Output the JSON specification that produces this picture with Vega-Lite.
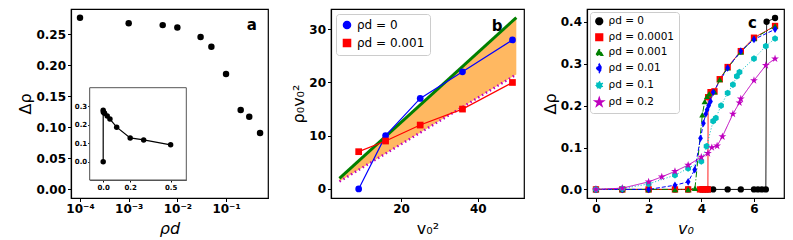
{
  "$schema": "https://vega.github.io/schema/vega-lite/v6.json",
  "padding": {"left": 17, "top": 8, "right": 5, "bottom": 0},
  "background": "white",
  "bounds": "flush",
  "spacing": 63,
  "resolve": {
    "scale": {"color": "independent", "shape": "independent", "strokeDash": "independent"},
    "legend": {"color": "independent", "shape": "independent", "strokeDash": "independent"}
  },
  "config": {
    "font": "DejaVu Sans",
    "view": {"stroke": "black", "strokeWidth": 1.2},
    "axis": {"grid": false, "domainColor": "black", "domainWidth": 1.2, "tickColor": "black", "tickSize": 3.5, "labelFontSize": 12, "labelFontWeight": "bold", "labelColor": "black", "titleFontSize": 16, "titleFontWeight": "normal", "titleColor": "black", "labelPadding": 2, "labelOverlap": false},
    "axisX": {"titlePadding": 6},
    "axisY": {"titlePadding": 2},
    "legend": {"labelFont": "DejaVu Sans", "labelColor": "black"}
  },
  "datasets": {
    "a_main": [
      {"rho_d": 0.0001, "drho": 0.277}, {"rho_d": 0.001, "drho": 0.268}, {"rho_d": 0.005, "drho": 0.265},
      {"rho_d": 0.01, "drho": 0.261}, {"rho_d": 0.03, "drho": 0.246}, {"rho_d": 0.05, "drho": 0.230},
      {"rho_d": 0.1, "drho": 0.186}, {"rho_d": 0.2, "drho": 0.128}, {"rho_d": 0.3, "drho": 0.117},
      {"rho_d": 0.5, "drho": 0.091}
    ],
    "a_inset": [
      {"rho_d": 0, "drho": 0},
      {"rho_d": 0.0001, "drho": 0.277}, {"rho_d": 0.001, "drho": 0.268}, {"rho_d": 0.005, "drho": 0.265},
      {"rho_d": 0.01, "drho": 0.261}, {"rho_d": 0.03, "drho": 0.246}, {"rho_d": 0.05, "drho": 0.230},
      {"rho_d": 0.1, "drho": 0.186}, {"rho_d": 0.2, "drho": 0.128}, {"rho_d": 0.3, "drho": 0.117},
      {"rho_d": 0.5, "drho": 0.091}
    ],
    "b_band": [
      {"v2": 4, "lo": 1.4, "hi": 2.0},
      {"v2": 50, "lo": 21.5, "hi": 32.2}
    ],
    "b_series": [
      {"s": "ρd = 0", "v2": 9, "val": 0}, {"s": "ρd = 0", "v2": 16, "val": 10}, {"s": "ρd = 0", "v2": 25, "val": 17},
      {"s": "ρd = 0", "v2": 36, "val": 22}, {"s": "ρd = 0", "v2": 49, "val": 28},
      {"s": "ρd = 0.001", "v2": 9, "val": 7}, {"s": "ρd = 0.001", "v2": 16, "val": 9}, {"s": "ρd = 0.001", "v2": 25, "val": 12},
      {"s": "ρd = 0.001", "v2": 36, "val": 15}, {"s": "ρd = 0.001", "v2": 49, "val": 20}
    ],
    "c_series": [
      {"s": "ρd = 0", "v0": 0, "d": 0}, {"s": "ρd = 0", "v0": 1, "d": 0}, {"s": "ρd = 0", "v0": 2, "d": 0},
      {"s": "ρd = 0", "v0": 3, "d": 0}, {"s": "ρd = 0", "v0": 3.5, "d": 0}, {"s": "ρd = 0", "v0": 4, "d": 0},
      {"s": "ρd = 0", "v0": 4.1, "d": 0}, {"s": "ρd = 0", "v0": 4.2, "d": 0}, {"s": "ρd = 0", "v0": 4.3, "d": 0},
      {"s": "ρd = 0", "v0": 4.45, "d": 0}, {"s": "ρd = 0", "v0": 5, "d": 0}, {"s": "ρd = 0", "v0": 5.5, "d": 0},
      {"s": "ρd = 0", "v0": 6, "d": 0}, {"s": "ρd = 0", "v0": 6.15, "d": 0}, {"s": "ρd = 0", "v0": 6.3, "d": 0},
      {"s": "ρd = 0", "v0": 6.45, "d": 0}, {"s": "ρd = 0", "v0": 6.48, "d": 0.40}, {"s": "ρd = 0", "v0": 6.8, "d": 0.409},

      {"s": "ρd = 0.0001", "v0": 0, "d": 0}, {"s": "ρd = 0.0001", "v0": 1, "d": 0}, {"s": "ρd = 0.0001", "v0": 2, "d": 0},
      {"s": "ρd = 0.0001", "v0": 3, "d": 0}, {"s": "ρd = 0.0001", "v0": 3.5, "d": 0}, {"s": "ρd = 0.0001", "v0": 3.95, "d": 0},
      {"s": "ρd = 0.0001", "v0": 4.05, "d": 0}, {"s": "ρd = 0.0001", "v0": 4.15, "d": 0}, {"s": "ρd = 0.0001", "v0": 4.25, "d": 0},
      {"s": "ρd = 0.0001", "v0": 4.26, "d": 0.22}, {"s": "ρd = 0.0001", "v0": 4.35, "d": 0.232}, {"s": "ρd = 0.0001", "v0": 4.5, "d": 0.234},
      {"s": "ρd = 0.0001", "v0": 4.7, "d": 0.263}, {"s": "ρd = 0.0001", "v0": 5, "d": 0.292}, {"s": "ρd = 0.0001", "v0": 5.5, "d": 0.33},
      {"s": "ρd = 0.0001", "v0": 6, "d": 0.362}, {"s": "ρd = 0.0001", "v0": 6.8, "d": 0.39},

      {"s": "ρd = 0.001", "v0": 0, "d": 0}, {"s": "ρd = 0.001", "v0": 1, "d": 0}, {"s": "ρd = 0.001", "v0": 2, "d": 0},
      {"s": "ρd = 0.001", "v0": 3, "d": 0}, {"s": "ρd = 0.001", "v0": 3.5, "d": 0}, {"s": "ρd = 0.001", "v0": 3.76, "d": 0.003},
      {"s": "ρd = 0.001", "v0": 4.04, "d": 0.178}, {"s": "ρd = 0.001", "v0": 4.13, "d": 0.21}, {"s": "ρd = 0.001", "v0": 4.22, "d": 0.222},
      {"s": "ρd = 0.001", "v0": 4.3, "d": 0.228}, {"s": "ρd = 0.001", "v0": 4.5, "d": 0.233}, {"s": "ρd = 0.001", "v0": 4.7, "d": 0.262},
      {"s": "ρd = 0.001", "v0": 5, "d": 0.29}, {"s": "ρd = 0.001", "v0": 5.5, "d": 0.328}, {"s": "ρd = 0.001", "v0": 6, "d": 0.36},
      {"s": "ρd = 0.001", "v0": 6.8, "d": 0.39},

      {"s": "ρd = 0.01", "v0": 0, "d": 0}, {"s": "ρd = 0.01", "v0": 1, "d": 0}, {"s": "ρd = 0.01", "v0": 2, "d": 0},
      {"s": "ρd = 0.01", "v0": 3, "d": 0.01}, {"s": "ρd = 0.01", "v0": 3.5, "d": 0.018}, {"s": "ρd = 0.01", "v0": 3.75, "d": 0.047},
      {"s": "ρd = 0.01", "v0": 3.97, "d": 0.122}, {"s": "ρd = 0.01", "v0": 4.08, "d": 0.158}, {"s": "ρd = 0.01", "v0": 4.17, "d": 0.18},
      {"s": "ρd = 0.01", "v0": 4.22, "d": 0.19}, {"s": "ρd = 0.01", "v0": 4.28, "d": 0.2}, {"s": "ρd = 0.01", "v0": 4.35, "d": 0.21},
      {"s": "ρd = 0.01", "v0": 4.45, "d": 0.232}, {"s": "ρd = 0.01", "v0": 5, "d": 0.29}, {"s": "ρd = 0.01", "v0": 5.5, "d": 0.33},
      {"s": "ρd = 0.01", "v0": 6, "d": 0.358}, {"s": "ρd = 0.01", "v0": 6.8, "d": 0.382},

      {"s": "ρd = 0.1", "v0": 0, "d": 0}, {"s": "ρd = 0.1", "v0": 1, "d": 0.002}, {"s": "ρd = 0.1", "v0": 2, "d": 0.013},
      {"s": "ρd = 0.1", "v0": 3, "d": 0.034}, {"s": "ρd = 0.1", "v0": 3.5, "d": 0.05}, {"s": "ρd = 0.1", "v0": 4, "d": 0.067},
      {"s": "ρd = 0.1", "v0": 4.2, "d": 0.103}, {"s": "ρd = 0.1", "v0": 4.45, "d": 0.163}, {"s": "ρd = 0.1", "v0": 4.55, "d": 0.17},
      {"s": "ρd = 0.1", "v0": 4.75, "d": 0.2}, {"s": "ρd = 0.1", "v0": 5, "d": 0.23}, {"s": "ρd = 0.1", "v0": 5.2, "d": 0.25},
      {"s": "ρd = 0.1", "v0": 5.35, "d": 0.27}, {"s": "ρd = 0.1", "v0": 5.45, "d": 0.28}, {"s": "ρd = 0.1", "v0": 6, "d": 0.312},
      {"s": "ρd = 0.1", "v0": 6.45, "d": 0.342}, {"s": "ρd = 0.1", "v0": 6.8, "d": 0.36},

      {"s": "ρd = 0.2", "v0": 0, "d": 0}, {"s": "ρd = 0.2", "v0": 1, "d": 0.003}, {"s": "ρd = 0.2", "v0": 2, "d": 0.018},
      {"s": "ρd = 0.2", "v0": 2.5, "d": 0.03}, {"s": "ρd = 0.2", "v0": 3, "d": 0.043}, {"s": "ρd = 0.2", "v0": 3.5, "d": 0.058},
      {"s": "ρd = 0.2", "v0": 4, "d": 0.077}, {"s": "ρd = 0.2", "v0": 4.25, "d": 0.086}, {"s": "ρd = 0.2", "v0": 4.4, "d": 0.1},
      {"s": "ρd = 0.2", "v0": 4.6, "d": 0.104}, {"s": "ρd = 0.2", "v0": 4.8, "d": 0.126}, {"s": "ρd = 0.2", "v0": 5.2, "d": 0.18},
      {"s": "ρd = 0.2", "v0": 5.45, "d": 0.207}, {"s": "ρd = 0.2", "v0": 5.5, "d": 0.216}, {"s": "ρd = 0.2", "v0": 6, "d": 0.26},
      {"s": "ρd = 0.2", "v0": 6.45, "d": 0.296}, {"s": "ρd = 0.2", "v0": 6.8, "d": 0.312}
    ]
  },
  "hconcat": [
    {
      "width": 197,
      "height": 189,
      "layer": [
        {
          "layer": [
            {
              "data": {"name": "a_main"},
              "mark": {"type": "point", "filled": true, "size": 42, "color": "black", "opacity": 1},
              "encoding": {
                "x": {"field": "rho_d", "type": "quantitative",
                  "scale": {"type": "log", "domain": [0.0000653, 0.728], "nice": false},
                  "axis": {"values": [0.0001, 0.001, 0.01, 0.1], "labelExpr": "datum.value < 0.0005 ? '10⁻⁴' : datum.value < 0.005 ? '10⁻³' : datum.value < 0.05 ? '10⁻²' : '10⁻¹'", "title": "ρd", "titleFontStyle": "italic", "labelOverlap": false}},
                "y": {"field": "drho", "type": "quantitative",
                  "scale": {"domain": [-0.0139, 0.291], "nice": false, "zero": false},
                  "axis": {"tickCount": 6, "format": ".2f", "title": "Δρ", "titlePadding": 2, "labelOverlap": false}}
              }
            },
            {
              "data": {"values": [{}]},
              "mark": {"type": "text", "text": "a", "fontSize": 15, "fontWeight": "bold", "color": "black"},
              "encoding": {
                "x": {"datum": 0.34, "type": "quantitative"},
                "y": {"datum": 0.265, "type": "quantitative"}
              }
            }
          ]
        },
        {
          "layer": [
            {
              "data": {"values": [{}]},
              "mark": {"type": "rect", "fill": "white", "stroke": "#555555", "strokeWidth": 1},
              "encoding": {
                "x": {"datum": -0.1, "type": "quantitative",
                  "scale": {"domain": [-0.1, 0.616], "range": [18.7, 115.3], "nice": false, "zero": false},
                  "axis": {"orient": "bottom", "offset": -18, "values": [0, 0.2, 0.5], "format": ".1f", "labelFontSize": 7, "tickSize": 2, "labelPadding": 1, "title": null, "domainColor": "#555555", "domainWidth": 1}},
                "x2": {"datum": 0.616},
                "y": {"datum": -0.099, "type": "quantitative",
                  "scale": {"domain": [-0.099, 0.399], "range": [171, 78.7], "nice": false, "zero": false},
                  "axis": {"orient": "left", "offset": -18.7, "tickCount": 4, "format": ".1f", "labelFontSize": 7, "tickSize": 2, "labelPadding": 1, "title": null, "domainColor": "#555555", "domainWidth": 1}},
                "y2": {"datum": 0.399}
              }
            },
            {
              "data": {"name": "a_inset"},
              "mark": {"type": "line", "color": "black", "strokeWidth": 1.2},
              "encoding": {
                "x": {"field": "rho_d", "type": "quantitative"},
                "y": {"field": "drho", "type": "quantitative"}
              }
            },
            {
              "data": {"name": "a_inset"},
              "mark": {"type": "point", "filled": true, "size": 30, "color": "black", "opacity": 1},
              "encoding": {
                "x": {"field": "rho_d", "type": "quantitative"},
                "y": {"field": "drho", "type": "quantitative"}
              }
            }
          ]
        }
      ],
      "resolve": {"scale": {"x": "independent", "y": "independent"}}
    },
    {
      "width": 193,
      "height": 189,
      "layer": [
        {
          "data": {"name": "b_band"},
          "mark": {"type": "area", "color": "#ffb861", "opacity": 1},
          "encoding": {
            "x": {"field": "v2", "type": "quantitative",
              "scale": {"domain": [1.8, 52], "nice": false, "zero": false},
              "axis": {"values": [20, 40], "title": "v₀²"}},
            "y": {"field": "lo", "type": "quantitative",
              "scale": {"domain": [-1.7, 33.8], "nice": false, "zero": false},
              "axis": {"values": [0, 10, 20, 30], "title": "ρ₀v₀²"}},
            "y2": {"field": "hi"}
          }
        },
        {
          "data": {"name": "b_band"},
          "mark": {"type": "line", "color": "#bf00bf", "strokeWidth": 2.5, "strokeDash": [1.5, 3]},
          "encoding": {
            "x": {"field": "v2", "type": "quantitative"},
            "y": {"field": "lo", "type": "quantitative"}
          }
        },
        {
          "data": {"name": "b_band"},
          "mark": {"type": "line", "color": "#008000", "strokeWidth": 3},
          "encoding": {
            "x": {"field": "v2", "type": "quantitative"},
            "y": {"field": "hi", "type": "quantitative"}
          }
        },
        {
          "data": {"name": "b_series"},
          "mark": {"type": "line", "strokeWidth": 1.2},
          "encoding": {
            "x": {"field": "v2", "type": "quantitative"},
            "y": {"field": "val", "type": "quantitative"},
            "color": {"field": "s", "type": "nominal",
              "scale": {"domain": ["ρd = 0", "ρd = 0.001"], "range": ["#0000ff", "#ff0000"]},
              "legend": {"orient": "top-left", "title": null, "labelFontSize": 12, "symbolSize": 50, "strokeColor": "#cccccc", "fillColor": "white", "padding": 5, "offset": 5, "cornerRadius": 3, "rowPadding": 4}}
          }
        },
        {
          "data": {"name": "b_series"},
          "mark": {"type": "point", "filled": true, "size": 45, "opacity": 1},
          "encoding": {
            "x": {"field": "v2", "type": "quantitative"},
            "y": {"field": "val", "type": "quantitative"},
            "color": {"field": "s", "type": "nominal"},
            "shape": {"field": "s", "type": "nominal", "scale": {"domain": ["ρd = 0", "ρd = 0.001"], "range": ["circle", "square"]}}
          }
        },
        {
          "data": {"values": [{}]},
          "mark": {"type": "text", "text": "b", "fontSize": 15, "fontWeight": "bold", "color": "black"},
          "encoding": {
            "x": {"datum": 45, "type": "quantitative"},
            "y": {"datum": 30.6, "type": "quantitative"}
          }
        }
      ]
    },
    {
      "width": 197,
      "height": 189,
      "layer": [
        {
          "data": {"name": "c_series"},
          "mark": {"type": "line", "strokeWidth": 1},
          "encoding": {
            "x": {"field": "v0", "type": "quantitative",
              "scale": {"domain": [-0.34, 7.14], "nice": false, "zero": false},
              "axis": {"values": [0, 2, 4, 6], "title": "v₀", "titleFontStyle": "italic"}},
            "y": {"field": "d", "type": "quantitative",
              "scale": {"domain": [-0.0205, 0.4305], "nice": false, "zero": false},
              "axis": {"values": [0, 0.1, 0.2, 0.3, 0.4], "format": ".1f", "title": "Δρ"}},
            "color": {"field": "s", "type": "nominal",
              "scale": {"domain": ["ρd = 0", "ρd = 0.0001", "ρd = 0.001", "ρd = 0.01", "ρd = 0.1", "ρd = 0.2"], "range": ["#000000", "#ff0000", "#008000", "#0000ff", "#00bfbf", "#bf00bf"]},
              "legend": {"orient": "top-left", "title": null, "labelFontSize": 10.5, "symbolSize": 45, "strokeColor": "#cccccc", "fillColor": "white", "padding": 4, "offset": 3, "cornerRadius": 3, "rowPadding": 2}},
            "strokeDash": {"field": "s", "type": "nominal",
              "scale": {"domain": ["ρd = 0", "ρd = 0.0001", "ρd = 0.001", "ρd = 0.01", "ρd = 0.1", "ρd = 0.2"], "range": [[1, 0], [1, 0], [6, 2, 1, 2], [4, 2], [1, 2], [1, 0]]}}
          }
        },
        {
          "data": {"name": "c_series"},
          "mark": {"type": "point", "filled": true, "size": 40, "opacity": 1},
          "encoding": {
            "x": {"field": "v0", "type": "quantitative"},
            "y": {"field": "d", "type": "quantitative"},
            "color": {"field": "s", "type": "nominal"},
            "shape": {"field": "s", "type": "nominal",
              "scale": {"domain": ["ρd = 0", "ρd = 0.0001", "ρd = 0.001", "ρd = 0.01", "ρd = 0.1", "ρd = 0.2"], "range": ["circle", "square", "triangle-up", "M0,-1.2L0.75,0L0,1.2L-0.75,0Z", "M0,-1.05L0.91,-0.525L0.91,0.525L0,1.05L-0.91,0.525L-0.91,-0.525Z", "M0,-1.3L0.292,-0.402L1.236,-0.402L0.472,0.153L0.764,1.052L0,0.497L-0.764,1.052L-0.472,0.153L-1.236,-0.402L-0.292,-0.402Z"]}}
          }
        },
        {
          "data": {"values": [{}]},
          "mark": {"type": "text", "text": "c", "fontSize": 15, "fontWeight": "bold", "color": "black"},
          "encoding": {
            "x": {"datum": 5.94, "type": "quantitative"},
            "y": {"datum": 0.398, "type": "quantitative"}
          }
        }
      ]
    }
  ]
}
